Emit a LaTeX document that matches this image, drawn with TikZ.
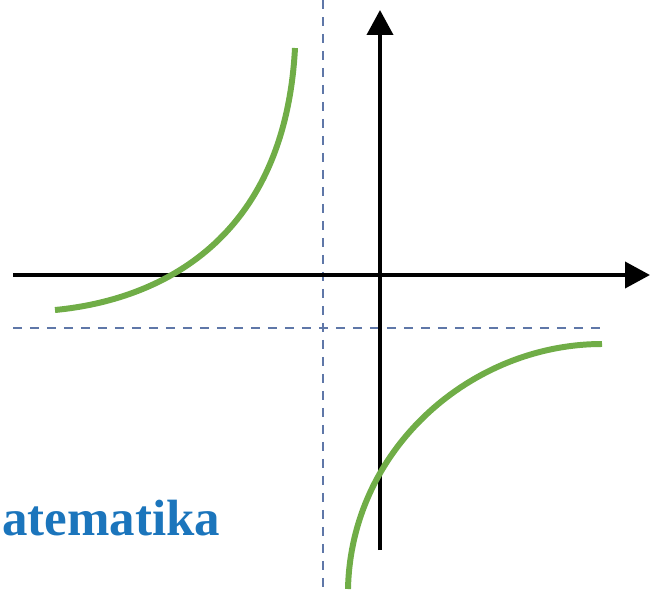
\documentclass[tikz,border=0pt]{standalone}
\usepackage{fontspec}
\setmainfont{Liberation Serif}
\usepackage{tikz}
\usepackage{xcolor}
\usetikzlibrary{arrows.meta}
\definecolor{ink}{HTML}{000000}
\definecolor{branchgreen}{HTML}{70AD47}
\definecolor{asymblue}{HTML}{5F77A8}
\definecolor{titleblue}{HTML}{1B75BC}
\tikzset{
  axis/.style={draw=ink, line width=2.2pt,
               -{Triangle[length=0.5cm,width=0.52cm]}},
  asym/.style={draw=asymblue, line width=1.2pt, dash pattern=on 0.18cm off 0.16cm},
  branch/.style={draw=branchgreen, line width=3.4pt},
  brand/.style={font=\fontsize{29}{30}\selectfont\bfseries, text=titleblue,
                inner sep=0pt}
}

\begin{document}
\begin{tikzpicture}[x=0.02cm,y=-0.02cm]
    \useasboundingbox (0,0) rectangle (660,589);

    % ===== asymptotes =====
    \coordinate (va-top) at (323,0);
    \coordinate (va-bot) at (323,589);
    \coordinate (ha-left) at (13,328);
    \coordinate (ha-right) at (602,328);
    \draw[asym] (va-top) -- (va-bot);
    \draw[asym] (ha-left) -- (ha-right);

    % ===== axes =====
    \coordinate (x-start) at (13,275);
    \coordinate (x-end) at (650,275);
    \coordinate (y-start) at (380,550);
    \coordinate (y-end) at (380,10);
    \draw[axis] (x-start) -- (x-end);
    \draw[axis] (y-start) -- (y-end);

    % ===== hyperbola, left branch =====
    \coordinate (left-a) at (55,310);
    \coordinate (left-b) at (295,48);
    \draw[branch] (left-a) .. controls (160,300) and (285,240) .. (left-b);

    % ===== hyperbola, right branch =====
    \coordinate (right-a) at (348,589);
    \coordinate (right-b) at (602,344);
    \draw[branch] (right-a) .. controls (351,448) and (472,344) .. (right-b);

    % ===== caption, cut at the left edge =====
    \node[brand,anchor=base west] (brand) at (2,535) {atematika};
  \end{tikzpicture}
\end{document}
